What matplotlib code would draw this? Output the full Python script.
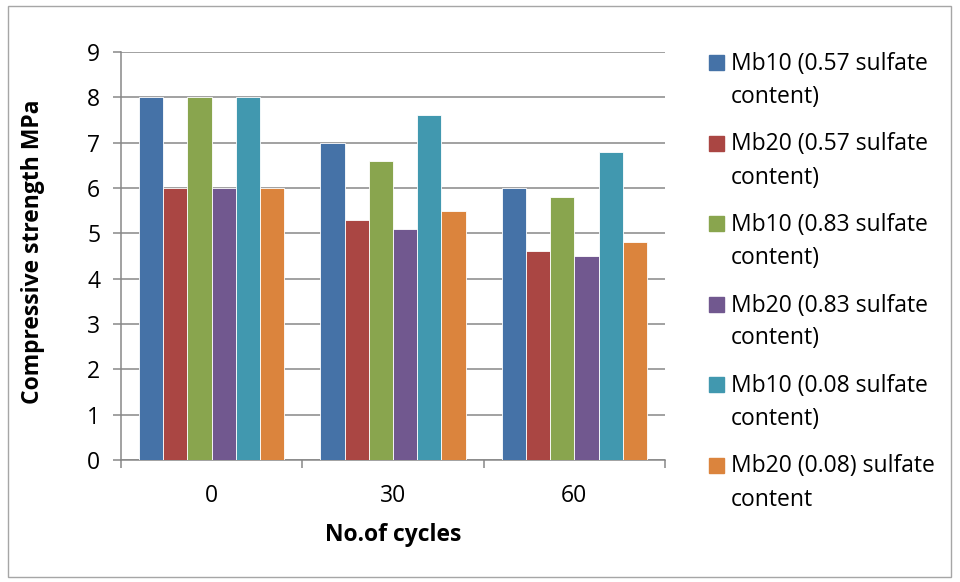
import matplotlib
matplotlib.use("Agg")
import matplotlib.pyplot as plt
import numpy as np
from matplotlib.patches import Rectangle

cycles = ["0", "30", "60"]
series = [
    "Mb10 (0.57 sulfate content)",
    "Mb20 (0.57 sulfate content)",
    "Mb10 (0.83 sulfate content)",
    "Mb20 (0.83 sulfate content)",
    "Mb10 (0.08 sulfate content)",
    "Mb20 (0.08) sulfate content",
]
mb10_057 = [8.0, 7.0, 6.0]
mb20_057 = [6.0, 5.3, 4.6]
mb10_083 = [8.0, 6.6, 5.8]
mb20_083 = [6.0, 5.1, 4.5]
mb10_008 = [8.0, 7.6, 6.8]
mb20_008 = [6.0, 5.5, 4.8]
values = [mb10_057, mb20_057, mb10_083, mb20_083, mb10_008, mb20_008]
colors = ["#4572A7", "#AA4643", "#89A54E", "#71588F", "#4198AF", "#DB843D"]

plt.rcParams["font.family"] = ["Open Sans", "DejaVu Sans"]
FS = 16.5
GRID = "#878787"

W, H = 960, 582
fig = plt.figure(figsize=(W / 100, H / 100), dpi=100)
ax = fig.add_axes([121 / W, 1 - 460 / H, (665 - 121) / W, (460 - 52) / H])

x = np.arange(len(cycles))
n = len(values)
bw = 0.8 / n
for i, (vals, c) in enumerate(zip(values, colors)):
    ax.bar(x - 0.4 + bw * (i + 0.5), vals, bw, color=c, edgecolor="white",
           linewidth=0.6, zorder=3)

ax.set_xlim(-0.5, len(cycles) - 0.5)
ax.set_ylim(0, 9)
ax.set_yticks(range(0, 10))
ax.yaxis.grid(True, color=GRID, linewidth=1.1, zorder=0)
ax.set_axisbelow(True)

ax.set_xticks(np.arange(-0.5, len(cycles)))
ax.set_xticklabels([])
ax.set_xticks(x, minor=True)
ax.set_xticklabels(cycles, minor=True)
ax.tick_params(axis="x", which="major", length=6, width=1.1, color=GRID, direction="out")
ax.tick_params(axis="x", which="minor", length=0, pad=17, labelsize=FS)
ax.tick_params(axis="y", length=6, width=1.1, color=GRID, pad=9, labelsize=FS)

for s in ["top", "right"]:
    ax.spines[s].set_visible(False)
for s in ["left", "bottom"]:
    ax.spines[s].set_color(GRID)
    ax.spines[s].set_linewidth(1.1)

ax.set_ylabel("Compressive strength MPa", fontsize=FS, fontweight="bold", va="center")
ax.yaxis.set_label_coords((33 - 121) / 544, 0.51)
ax.set_xlabel("No.of cycles", fontsize=FS, fontweight="bold", va="center")
ax.xaxis.set_label_coords(0.5, (460 - 535) / 408)

# legend drawn by hand: square aligned with first text line
for i, (lab, c) in enumerate(zip(series, colors)):
    base = 70 + i * 80.5
    fig.patches.append(Rectangle((709 / W, 1 - base / H), 15 / W, 15 / H,
                                 transform=fig.transFigure, color=c))
    line1, line2 = lab.rsplit(" ", 1)
    fig.text(731 / W, 1 - base / H, line1, fontsize=FS, va="baseline")
    fig.text(731 / W, 1 - (base + 33) / H, line2, fontsize=FS, va="baseline")

fig.patches.append(Rectangle((8 / W, 5 / H), (951 - 8) / W, (576 - 5) / H,
                             transform=fig.transFigure, fill=False,
                             edgecolor="#a6a6a6", linewidth=1))

fig.savefig("out.png", dpi=100)
